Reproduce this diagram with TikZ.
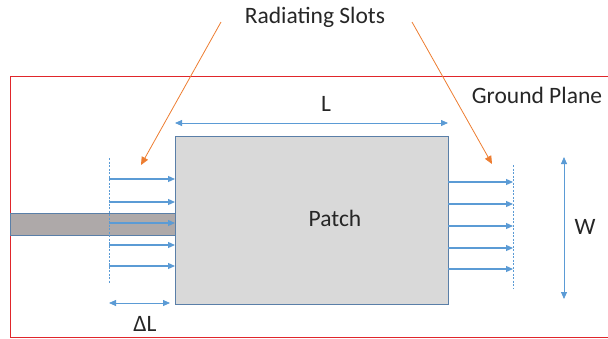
\documentclass[tikz,border=0pt]{standalone}
\usepackage{fontspec}
\setmainfont{Carlito}
\usetikzlibrary{arrows.meta}
\definecolor{fieldblue}{HTML}{5B9BD5}
\definecolor{edgeblue}{HTML}{5A7FA8}
\definecolor{slotorange}{HTML}{ED7D31}
\definecolor{gndred}{HTML}{E0262B}
\definecolor{patchgray}{HTML}{D9D9D9}
\definecolor{feedgray}{HTML}{AEA9A9}
\tikzset{
  field/.style={very thick, fieldblue, -{Triangle[length=7pt,width=6pt]}},
  dim/.style={thick, fieldblue, {Triangle[length=7pt,width=6pt]}-{Triangle[length=7pt,width=6pt]}},
  slot/.style={fieldblue, thick, dash pattern=on 2pt off 1.5pt},
  pointer/.style={slotorange, thick, -{Triangle[length=8pt,width=7pt]}},
  lbl/.style={font=\fontsize{23.5}{27}\selectfont, text=black!85}
}
\begin{document}
\begin{tikzpicture}[x=1pt,y=-1pt]
\useasboundingbox (0,0) rectangle (608,338);

% ground plane
\draw[gndred, thick] (620,76) -- (10,76) -- (10,337) -- (620,337);
\node[lbl] (gnd) at (537,95) {Ground Plane};

% feed line and patch
\draw[edgeblue, fill=feedgray] (10,213) rectangle (175,235);
\draw[edgeblue, thick, fill=patchgray] (175,136) rectangle (448,304);
\node[lbl] (patch) at (335,218) {Patch};

% slot edges
\coordinate (sl1) at (109,158);
\coordinate (sl2) at (109,284);
\coordinate (sr1) at (513,165);
\coordinate (sr2) at (513,289);
\draw[slot] (sl1) -- (sl2);
\draw[slot] (sr1) -- (sr2);

% fringing fields
\foreach \y [count=\i] in {179,202,223,245,266}
{
\coordinate (a\i) at (109,\y);
\coordinate (b\i) at (175,\y);
\draw[field] (a\i) -- (b\i);
}
\foreach \y [count=\i] in {182,204,226,248,269}
{
\coordinate (c\i) at (448,\y);
\coordinate (d\i) at (513,\y);
\draw[field] (c\i) -- (d\i);
}

% dimensions
\coordinate (l1) at (175,123);
\coordinate (l2) at (448,123);
\draw[dim] (l1) -- (l2);
\node[lbl] (L) at (326,104) {L};
\coordinate (w1) at (564,157);
\coordinate (w2) at (564,299);
\draw[dim] (w1) -- (w2);
\node[lbl] (W) at (585,227) {W};
\coordinate (dl1) at (109,303);
\coordinate (dl2) at (170,303);
\draw[dim] (dl1) -- (dl2);
\node[lbl] (dL) at (145,324) {ΔL};

% radiating slots
\node[lbl] (rs) at (315,17) {Radiating Slots};
\coordinate (p1) at (221,22);
\coordinate (q1) at (141,165);
\coordinate (p2) at (412,22);
\coordinate (q2) at (492,164);
\draw[pointer] (p1) -- (q1);
\draw[pointer] (p2) -- (q2);
\end{tikzpicture}
\end{document}
